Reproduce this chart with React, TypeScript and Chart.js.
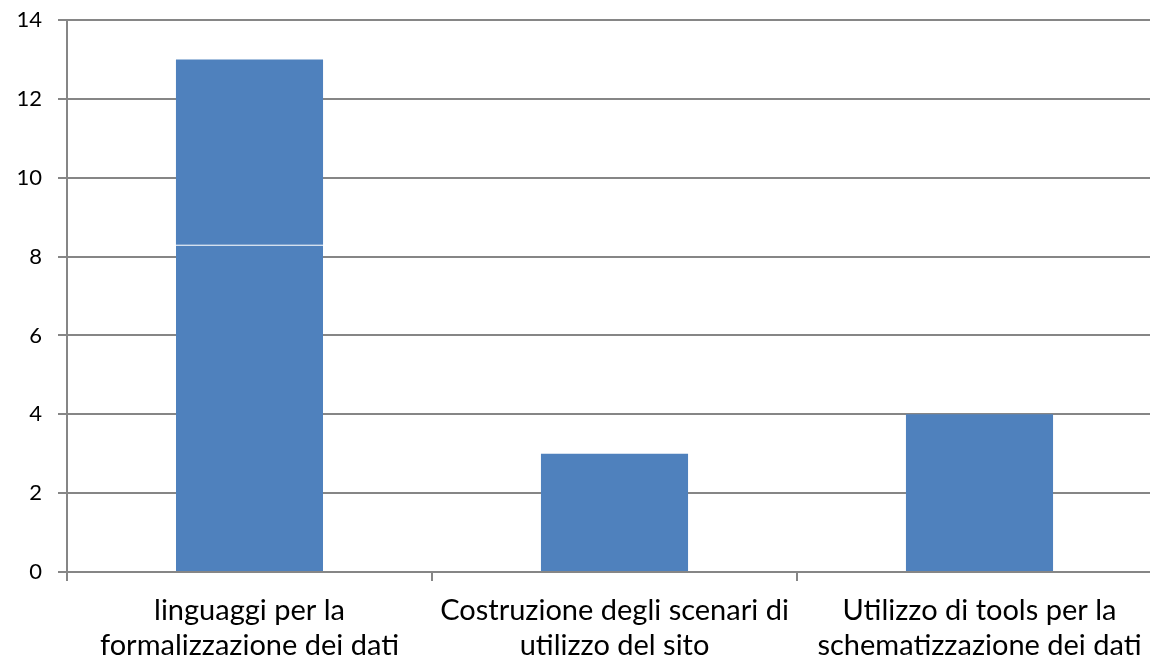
import React, { useEffect, useRef } from "react";
import { Chart, registerables } from "chart.js";

Chart.register(...registerables);

const categories: string[][] = [
  ["linguaggi per la", "formalizzazione dei dati"],
  ["Costruzione degli scenari di", "utilizzo del sito"],
  ["Utilizzo di tools per la", "schematizzazione dei dati"],
];
const lowerValues = [8.3, 3, 4];
const upperValues = [4.7, 0, 0];
const yTicks = [0, 2, 4, 6, 8, 10, 12, 14];

const BAR = "#4F81BD";
const GRID = "#868686";
const FONT = "Lato, 'Open Sans', sans-serif";

export default function App() {
  const ref = useRef<HTMLCanvasElement>(null);
  useEffect(() => {
    if (!ref.current) return;
    const chart = new Chart(ref.current, {
      type: "bar",
      data: {
        labels: categories,
        datasets: [
          {
            data: lowerValues,
            backgroundColor: BAR,
            borderColor: "#ffffff",
            borderWidth: (ctx: any) => (ctx.dataIndex === 0 ? { top: 1, left: 0, right: 0, bottom: 0 } : 0),
            borderSkipped: false,
            barPercentage: 0.403,
            categoryPercentage: 1,
          },
          {
            data: upperValues,
            backgroundColor: BAR,
            borderWidth: 0,
            barPercentage: 0.403,
            categoryPercentage: 1,
          },
        ],
      },
      options: {
        responsive: false,
        animation: false,
        layout: { padding: { top: 20, right: 0, left: 0, bottom: 0 } },
        plugins: { legend: { display: false }, tooltip: { enabled: false } },
        scales: {
          x: {
            stacked: true,
            offset: true,
            grid: {
              offset: true,
              drawOnChartArea: false,
              drawTicks: true,
              tickLength: 9,
              color: GRID,
              lineWidth: 2,
            },
            border: { display: false },
            ticks: {
              color: "#000",
              font: { family: FONT, size: 29 },
              padding: 12,
              maxRotation: 0,
              autoSkip: false,
            },
            afterFit: (s: any) => {
              s.height = 94;
              s.paddingLeft = 0;
              s.paddingRight = 0;
            },
          },
          y: {
            stacked: true,
            min: 0,
            max: 14,
            afterBuildTicks: (s: any) => {
              s.ticks = yTicks.map((v) => ({ value: v }));
            },
            grid: {
              color: GRID,
              lineWidth: 2,
              tickLength: 9,
            },
            border: { display: true, color: GRID, width: 2 },
            ticks: {
              color: "#000",
              font: { family: FONT, size: 22 },
              padding: 16,
            },
            afterFit: (s: any) => {
              s.width = 67;
              s.paddingTop = 0;
              s.paddingBottom = 0;
            },
          },
        },
      },
    });
    return () => chart.destroy();
  }, []);
  return (
    <div style={{ position: "fixed", left: 0, top: 0, width: 1162, height: 666, overflow: "visible", background: "#fff" }}>
      <canvas ref={ref} width={1162} height={666} style={{ display: "block" }} />
    </div>
  );
}
